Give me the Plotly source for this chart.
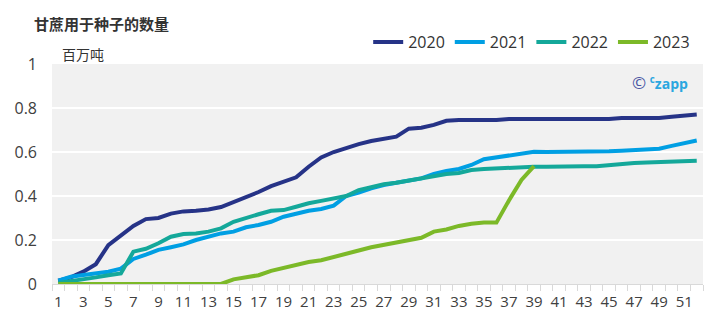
import plotly.graph_objects as go

weeks = list(range(1, 53))

y2020 = [0.015, 0.03, 0.056, 0.09, 0.177, 0.223, 0.264, 0.295, 0.30, 0.32,
         0.33, 0.333, 0.339, 0.35, 0.372, 0.398, 0.418, 0.445, 0.463, 0.485,
         0.533, 0.575, 0.60, 0.62, 0.636, 0.65, 0.66, 0.67, 0.706, 0.71,
         0.723, 0.742, 0.745, 0.745, 0.745, 0.745, 0.75, 0.75, 0.75, 0.75,
         0.75, 0.75, 0.75, 0.75, 0.75, 0.755, 0.755, 0.755, 0.755, 0.76,
         0.765, 0.77]
y2021 = [0.015, 0.033, 0.041, 0.048, 0.056, 0.07, 0.114, 0.133, 0.155, 0.167,
         0.18, 0.20, 0.215, 0.23, 0.238, 0.258, 0.268, 0.283, 0.306, 0.321,
         0.333, 0.341, 0.356, 0.40, 0.415, 0.435, 0.45, 0.46, 0.47, 0.48,
         0.50, 0.514, 0.523, 0.541, 0.567, 0.576, 0.586, 0.594, 0.601, 0.60,
         0.60, 0.60, 0.60, 0.60, 0.603, 0.606, 0.609, 0.612, 0.615, 0.628,
         0.64, 0.652]
y2022 = [0.005, 0.012, 0.021, 0.03, 0.04, 0.048, 0.147, 0.16, 0.185, 0.215,
         0.227, 0.23, 0.238, 0.253, 0.283, 0.298, 0.317, 0.333, 0.336, 0.351,
         0.367, 0.378, 0.39, 0.40, 0.427, 0.442, 0.453, 0.46, 0.47, 0.48,
         0.49, 0.50, 0.505, 0.518, 0.523, 0.526, 0.53, 0.533, 0.533, 0.533,
         0.535, 0.535, 0.535, 0.535, 0.54, 0.548, 0.55, 0.552, 0.555, 0.558,
         0.56, 0.56]
weeks2023 = list(range(1, 40))
y2023 = [0, 0, 0, 0, 0, 0, 0, 0, 0, 0,
         0, 0, 0, 0, 0.021, 0.03, 0.04, 0.06, 0.074, 0.086,
         0.10, 0.108, 0.124, 0.139, 0.152, 0.167, 0.177, 0.188, 0.20, 0.21,
         0.238, 0.248, 0.264, 0.274, 0.279, 0.279, 0.38, 0.473, 0.536]

series = [
    ("2020", weeks, y2020, "#263387"),
    ("2021", weeks, y2021, "#009fe3"),
    ("2022", weeks, y2022, "#14a89a"),
    ("2023", weeks2023, y2023, "#7cb928"),
]

x_ticks = list(range(1, 53, 2))
y_ticks = [0, 0.2, 0.4, 0.6, 0.8, 1]
y_tick_text = ["0", "0.2", "0.4", "0.6", "0.8", "1"]

fig = go.Figure()
for name, xs, ys, color in series:
    fig.add_trace(go.Scatter(x=xs, y=ys, name=name, mode="lines",
                             line=dict(color=color, width=4)))

font_family = "Open Sans, Noto Sans CJK SC, sans-serif"

fig.update_layout(
    width=713, height=329,
    margin=dict(l=52, r=10, t=64, b=45),
    paper_bgcolor="white",
    plot_bgcolor="#f1f1f1",
    font=dict(family=font_family, size=14, color="#404040"),
    showlegend=True,
    legend=dict(orientation="h", xanchor="right", x=0.988, yanchor="middle", y=1.1,
                font=dict(size=16, color="#333333"), bgcolor="rgba(0,0,0,0)",
                itemwidth=30, tracegroupgap=0),
    xaxis=dict(range=[0.5, 52.5], tickmode="array", tickvals=x_ticks,
               ticktext=[str(v) for v in x_ticks], ticks="", showgrid=False,
               showline=True, linecolor="#d9d9d9", linewidth=1, zeroline=False,
               ticklabelstandoff=4,
               tickfont=dict(size=15, color="#404040"),
               minor=dict(tick0=0.5, dtick=1, ticks="outside", ticklen=6,
                          tickcolor="#d9d9d9", showgrid=False)),
    yaxis=dict(range=[0, 1], tickmode="array", tickvals=y_ticks, ticktext=y_tick_text,
               showgrid=True, gridcolor="white", gridwidth=1.5, zeroline=False,
               ticks="", ticklabelstandoff=14,
               tickfont=dict(size=16, color="#404040")),
    annotations=[
        dict(text="<b>甘蔗用于种子的数量</b>", xref="paper", yref="paper",
             x=-0.0307, y=1.182, xanchor="left", yanchor="middle", showarrow=False,
             font=dict(family="Noto Sans CJK SC", size=15, color="#333333")),
        dict(text="百万吨", xref="paper", yref="paper",
             x=0.012, y=1.045, xanchor="left", yanchor="middle", showarrow=False,
             font=dict(family="Noto Sans CJK SC", size=14, color="#333333")),
        dict(text="<span style='color:#4b57a4;font-size:17px'>©</span> <span style='color:#2aa7e0'><b><sup>c</sup>zapp</b></span>",
             xref="paper", yref="paper", x=0.98, y=0.918, xanchor="right",
             yanchor="middle", showarrow=False,
             font=dict(family=font_family, size=14)),
    ],
)

fig.write_html("out.html")
